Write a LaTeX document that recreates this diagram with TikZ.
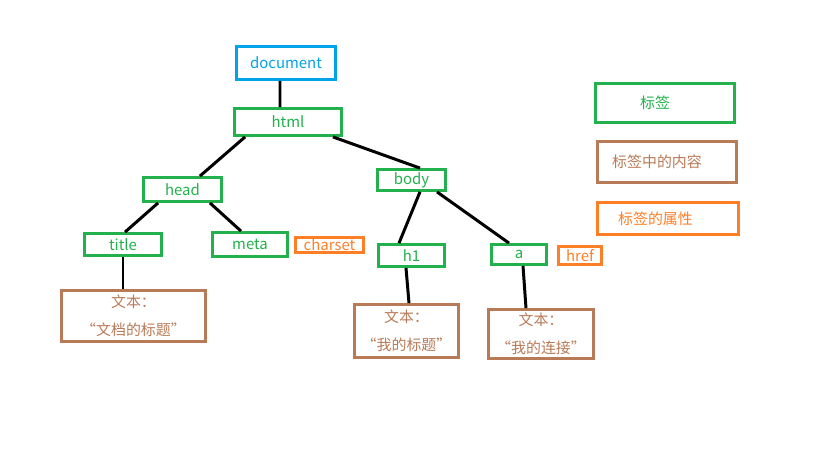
\documentclass[tikz,border=0pt]{standalone}
\usepackage{fontspec}
\setmainfont{Noto Sans CJK SC}
\usepackage{tikz}
\usetikzlibrary{positioning}
\usepackage{xcolor}
\definecolor{docblue}{HTML}{00A2E8}
\definecolor{taggreen}{HTML}{22B14C}
\definecolor{textbrown}{HTML}{B97A57}
\definecolor{attrorange}{HTML}{FF7F27}

\begin{document}
\begin{tikzpicture}[
  x=0.02cm, y=-0.02cm,
  base/.style={draw, line width=1.6pt, inner sep=0pt, font=\fontsize{8.5}{10}\selectfont},
  docnode/.style={base, draw=docblue, text=docblue},
  tagnode/.style={base, draw=taggreen, text=taggreen},
  textnode/.style={base, draw=textbrown, text=textbrown, align=center, font=\fontsize{8.5}{16}\selectfont},
  attrnode/.style={base, draw=attrorange, text=attrorange},
  link/.style={draw, line width=1.7pt}
]
\useasboundingbox (0,0) rectangle (819,460);

% tree
\node[docnode, minimum width=1.98cm, minimum height=0.66cm] (document) at (286,63) {document};
\node[tagnode, minimum width=2.14cm, minimum height=0.54cm] (html) at (288,122) {html};
\node[tagnode, minimum width=1.56cm, minimum height=0.48cm] (head) at (182.5,189.5) {head};
\node[tagnode, minimum width=1.36cm, minimum height=0.42cm] (body) at (411.5,180) {body};
\node[tagnode, minimum width=1.54cm, minimum height=0.44cm] (title) at (123,244.5) {title};
\node[tagnode, minimum width=1.50cm, minimum height=0.48cm] (meta) at (250,244.5) {meta};
\node[attrnode, minimum width=1.36cm, minimum height=0.30cm] (charset) at (329.5,245) {charset};
\node[tagnode, minimum width=1.32cm, minimum height=0.44cm] (h1) at (411.5,255.5) {h1};
\node[tagnode, minimum width=1.10cm, minimum height=0.40cm] (a) at (519,254.5) {a};
\node[attrnode, minimum width=0.86cm, minimum height=0.36cm] (href) at (580,255.5) {href};
\node[textnode, minimum width=2.88cm, minimum height=1.02cm] (titletext) at (133.5,316) {文本：\\“文档的标题”};
\node[textnode, minimum width=2.08cm, minimum height=1.06cm] (h1text) at (406.5,331) {文本：\\“我的标题”};
\node[textnode, minimum width=2.10cm, minimum height=0.98cm] (atext) at (541,334) {文本：\\“我的连接”};

% legend
\node[tagnode, minimum width=2.78cm, minimum height=0.78cm] (legtag) at (665,103) {标签\hspace*{0.4cm}};
\node[textnode, minimum width=2.78cm, minimum height=0.82cm] (legtext) at (667,162) {标签中的内容\hspace*{0.4cm}};
\node[attrnode, minimum width=2.82cm, minimum height=0.64cm] (legattr) at (668,218.5) {标签的属性\hspace*{0.5cm}};

% connectors
\path[link] ([xshift=-0.12cm]document.south) -- ([xshift=-0.16cm]html.north);
\path[link] ([xshift=0.24cm]html.south west) -- ([xshift=-0.46cm]head.north east);
\path[link] ([xshift=-0.2cm]html.south east) -- ([xshift=0.17cm]body.north);
\path[link] ([xshift=0.32cm]head.south west) -- ([xshift=0.04cm]title.north);
\path[link] ([xshift=-0.26cm]head.south east) -- ([xshift=-0.18cm]meta.north);
\path[link] (title.south) -- (title.south |- titletext.north);
\path[link] ([xshift=0.17cm]body.south) -- ([xshift=-0.25cm]h1.north);
\path[link] ([xshift=0.51cm]body.south) -- ([xshift=-0.2cm]a.north);
\path[link] ([xshift=-0.11cm]h1.south) -- ([xshift=0.05cm]h1text.north);
\path[link] ([xshift=0.08cm]a.south) -- ([xshift=-0.3cm]atext.north);
\end{tikzpicture}
\end{document}
